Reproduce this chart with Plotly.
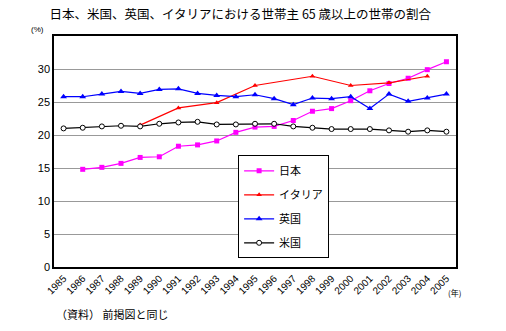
import plotly.graph_objects as go

years = list(range(1985, 2006))
year_labels = [str(y) for y in years]

japan = [None, 14.8, 15.1, 15.7, 16.6, 16.7, 18.3, 18.5, 19.1, 20.4, 21.2,
         21.3, 22.2, 23.6, 24.0, 25.2, 26.7, 27.8, 28.6, 29.9, 31.1]
italy = [None, None, None, None, 21.5, None, 24.1, None, 24.9, None, 27.5,
         None, None, 28.9, None, 27.5, None, 27.9, None, 28.9, None]
uk = [25.8, 25.8, 26.2, 26.6, 26.3, 26.9, 27.0, 26.3, 26.0, 25.8, 26.1,
      25.5, 24.6, 25.6, 25.5, 25.8, 24.0, 26.2, 25.1, 25.6, 26.2]
us = [21.0, 21.1, 21.3, 21.4, 21.3, 21.7, 21.9, 22.0, 21.6, 21.6, 21.7,
      21.7, 21.3, 21.1, 20.9, 20.9, 20.9, 20.7, 20.5, 20.7, 20.5]

series_names = ["日本", "イタリア", "英国", "米国"]
title_text = "日本、米国、英国、イタリアにおける世帯主 65 歳以上の世帯の割合"
source_text = "（資料） 前掲図と同じ"

jp_font = "Noto Sans CJK JP"

fig = go.Figure()
fig.add_trace(go.Scatter(x=years, y=japan, name=series_names[0], mode="lines+markers",
                         line=dict(color="#ff00ff", width=1.2),
                         marker=dict(symbol="square", size=5, color="#ff00ff"),
                         legendgroup="a"))
fig.add_trace(go.Scatter(x=years, y=italy, name=series_names[1], mode="lines+markers",
                         connectgaps=True,
                         line=dict(color="#ff0000", width=1.2),
                         marker=dict(symbol="triangle-up", size=5, color="#ff0000"),
                         legendgroup="b"))
fig.add_trace(go.Scatter(x=years, y=uk, name=series_names[2], mode="lines+markers",
                         line=dict(color="#0000ff", width=1.2),
                         marker=dict(symbol="triangle-up", size=6, color="#0000ff"),
                         legendgroup="c"))
fig.add_trace(go.Scatter(x=years, y=us, name=series_names[3], mode="lines+markers",
                         line=dict(color="#000000", width=1.2),
                         marker=dict(symbol="circle", size=5, color="white",
                                     line=dict(color="black", width=1)),
                         legendgroup="d"))

fig.update_layout(
    width=506, height=331,
    margin=dict(l=54, r=50, t=36, b=64),
    paper_bgcolor="white", plot_bgcolor="white",
    font=dict(family=jp_font, color="black", size=11),
    title=dict(text=title_text, x=0.475, xanchor="center", y=0.955, yanchor="middle",
               font=dict(size=12.5, family=jp_font)),
    showlegend=True,
    legend=dict(x=0.458, y=0.4835, xanchor="left", yanchor="top",
                bordercolor="black", borderwidth=1, bgcolor="white",
                font=dict(size=11, family=jp_font),
                traceorder="grouped", tracegroupgap=5, itemwidth=30),
)
fig.update_xaxes(range=[1984.5, 2005.5], tickvals=years, ticktext=year_labels,
                 tickangle=-45, tickfont=dict(size=10, family="Liberation Sans"),
                 showgrid=False, showline=True, linecolor="black", linewidth=1.5,
                 mirror=True, ticks="")
fig.update_yaxes(range=[0, 35], tickvals=[0, 5, 10, 15, 20, 25, 30],
                 tickfont=dict(size=11, family="Liberation Sans"),
                 showgrid=True, gridcolor="#999999", gridwidth=1,
                 showline=True, linecolor="black", linewidth=1.5, mirror=True,
                 ticks="", zeroline=False)

fig.add_annotation(text="(%)", xref="paper", yref="paper", x=-0.02, y=1.0,
                   xanchor="right", yanchor="bottom", showarrow=False,
                   font=dict(size=8, family="Liberation Sans"))
fig.add_annotation(text="(年)", xref="paper", yref="paper", x=0.975, y=-0.08,
                   xanchor="left", yanchor="top", showarrow=False,
                   font=dict(size=8, family=jp_font))
fig.add_annotation(text=source_text, xref="paper", yref="paper", x=0.0, y=-0.16,
                   xanchor="left", yanchor="top", showarrow=False,
                   font=dict(size=11, family=jp_font))

fig.write_html("out.html")
